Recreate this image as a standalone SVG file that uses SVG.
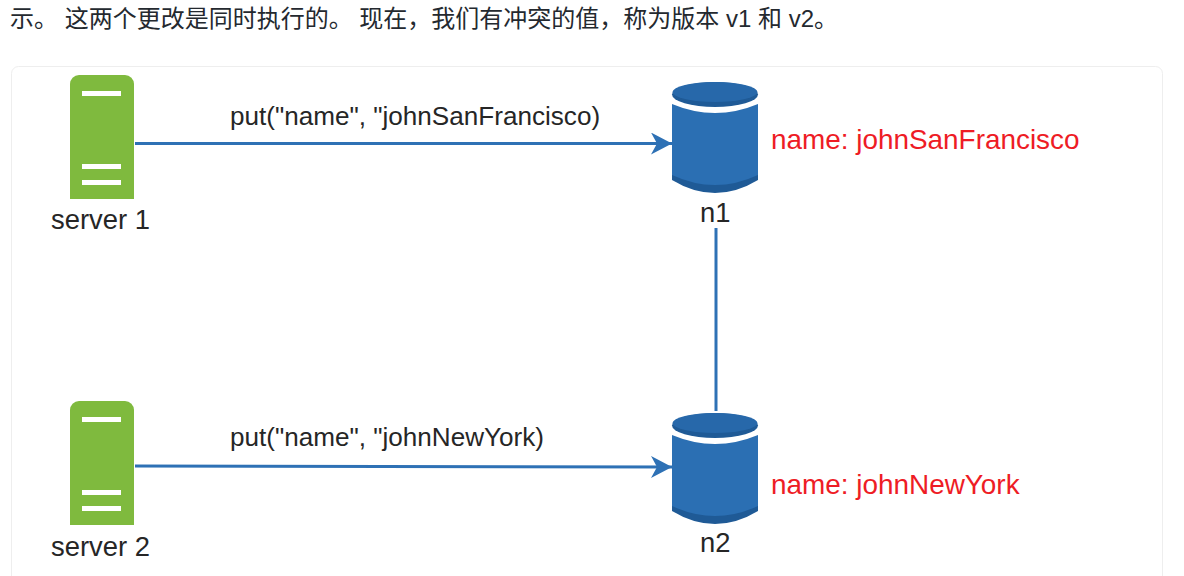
<svg xmlns="http://www.w3.org/2000/svg" width="1184" height="576" viewBox="0 0 1184 576">
<style>
.l{font-family:"Liberation Sans",Arial,sans-serif;font-size:26.1px;fill:#262626}
.s{font-family:"Liberation Sans",Arial,sans-serif;font-size:27.400px;fill:#262626}
.r{font-family:"Liberation Sans",Arial,sans-serif;font-size:27.900px;fill:#ee1c25}
.h{font-family:"Liberation Sans","Noto Sans CJK SC",sans-serif;font-size:24px;fill:#24292f}
.sv{fill:#7fba3e}.bar{fill:#fff}
.c{stroke:#2e71b5;stroke-width:3;fill:none}
.body{fill:#2b6fb3}.dark{fill:#1f5a96}.top{fill:#2768aa}
</style>
<defs>
<marker id="a" markerUnits="userSpaceOnUse" markerWidth="22" markerHeight="24" refX="21" refY="11" orient="auto"><path d="M0 0L21 11L0 22L6 11Z" fill="#2e71b5"/></marker>
<g id="srv"><path class="sv" d="M70 84a9 9 0 0 1 9-9h46a9 9 0 0 1 9 9v115H70Z"/><rect class="bar" x="82" y="91" width="39" height="5"/><rect class="bar" x="82" y="164" width="39" height="5"/><rect class="bar" x="82" y="180" width="39" height="5"/></g>
<g id="db"><path class="dark" d="M672 170V180Q715 206 758 180V170Z"/><path class="body" d="M672 104Q715 122 758 104V175Q715 195 672 175Z"/><ellipse class="dark" cx="715" cy="94.500" rx="43" ry="12.500"/><ellipse class="top" cx="715" cy="92" rx="42.500" ry="10"/></g>
</defs>
<rect width="1184" height="576" fill="#fff"/>
<text class="h" x="10" y="27">示。 这两个更改是同时执行的。 现在，我们有冲突的值，称为版本 v1 和 v2。</text>
<rect id="frame" x="11.500" y="66.500" width="1151" height="530" rx="7" fill="#fff" stroke="#eeeeee"/>
<g id="connectors">
<path class="c" d="M135 143.500H672" marker-end="url(#a)"/>
<path class="c" d="M135 466L672 467" marker-end="url(#a)"/>
<path class="c" d="M716 228V411"/>
</g>
<g id="server1"><use href="#srv"/><text class="s" x="51" y="229">server 1</text></g>
<g id="server2"><use href="#srv" y="326"/><text class="s" x="51" y="556">server 2</text></g>
<g id="n1"><use href="#db"/><text class="s" x="700" y="222">n1</text></g>
<g id="n2"><use href="#db" y="331"/><text class="s" x="700" y="552">n2</text></g>
<g id="labels">
<text class="l" x="230" y="125">put("name", "johnSanFrancisco)</text>
<text class="l" x="230" y="446">put("name", "johnNewYork)</text>
<text class="r" x="771" y="149">name: johnSanFrancisco</text>
<text class="r" x="771" y="494">name: johnNewYork</text>
</g>
</svg>
